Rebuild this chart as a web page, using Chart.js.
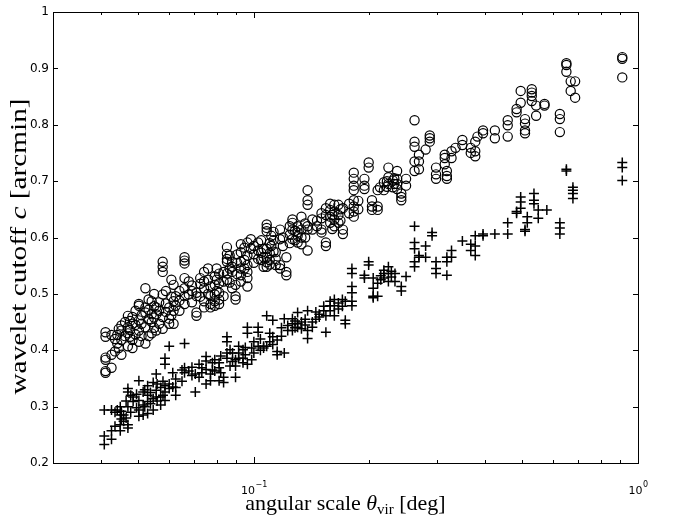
<!DOCTYPE html>
<html>
<head>
<meta charset="utf-8">
<script src="https://cdn.jsdelivr.net/npm/chart.js@4.4.1/dist/chart.umd.min.js"></script>
<style>
  html, body { margin: 0; padding: 0; background: #fff; }
</style>
</head>
<body>
<canvas id="cutoffChart" width="673" height="516"></canvas>
<script>
// angular scale (deg) -> wavelet cutoff (arcmin), grouped by halo scale
const circleGroups = [
  [0.0411, [0.360, 0.363, 0.383, 0.387, 0.424, 0.432]],
  [0.0426, [0.369, 0.392, 0.427]],
  [0.0435, [0.398, 0.420]],
  [0.0441, [0.427, 0.412]],
  [0.0445, [0.404, 0.438]],
  [0.0452, [0.392, 0.418, 0.435, 0.444]],
  [0.0462, [0.425, 0.450]],
  [0.0470, [0.407, 0.441, 0.461, 0.430]],
  [0.0476, [0.424, 0.436, 0.452]],
  [0.0483, [0.418, 0.404, 0.447, 0.459]],
  [0.0492, [0.428, 0.445, 0.470]],
  [0.0502, [0.415, 0.435, 0.479, 0.482, 0.453]],
  [0.0510, [0.425, 0.447, 0.462]],
  [0.0522, [0.412, 0.441, 0.467, 0.476, 0.510]],
  [0.0532, [0.425, 0.455, 0.472, 0.490]],
  [0.0542, [0.430, 0.450, 0.487, 0.464]],
  [0.0550, [0.440, 0.458, 0.478, 0.500]],
  [0.0557, [0.464, 0.476, 0.435]],
  [0.0567, [0.447, 0.470, 0.485]],
  [0.0579, [0.539, 0.548, 0.557, 0.499, 0.459, 0.438]],
  [0.0590, [0.468, 0.483, 0.505]],
  [0.0602, [0.476, 0.456, 0.447]],
  [0.0610, [0.462, 0.495, 0.525]],
  [0.0618, [0.516, 0.487, 0.470, 0.447]],
  [0.0626, [0.496, 0.479]],
  [0.0640, [0.470, 0.488, 0.505]],
  [0.0660, [0.565, 0.559, 0.554, 0.528, 0.510, 0.496, 0.482]],
  [0.0677, [0.499, 0.522]],
  [0.0690, [0.485, 0.505, 0.515]],
  [0.0709, [0.467, 0.461, 0.502, 0.496]],
  [0.0725, [0.495, 0.518, 0.528]],
  [0.0742, [0.539, 0.522, 0.510, 0.487, 0.476]],
  [0.0760, [0.500, 0.525, 0.545]],
  [0.0771, [0.513, 0.496, 0.482, 0.476]],
  [0.0791, [0.531, 0.516, 0.499, 0.487, 0.479]],
  [0.0800, [0.505, 0.525, 0.545]],
  [0.0812, [0.536, 0.519, 0.502, 0.490, 0.482]],
  [0.0834, [0.539, 0.522, 0.496]],
  [0.0851, [0.583, 0.571, 0.562, 0.557, 0.536, 0.525]],
  [0.0865, [0.520, 0.545, 0.568]],
  [0.0878, [0.557, 0.548, 0.539, 0.510]],
  [0.0896, [0.516, 0.496, 0.490]],
  [0.0905, [0.535, 0.555, 0.570]],
  [0.0925, [0.588, 0.574, 0.557, 0.545, 0.533, 0.522]],
  [0.0945, [0.545, 0.560, 0.582]],
  [0.0962, [0.591, 0.568, 0.551, 0.539, 0.528, 0.513]],
  [0.0982, [0.597, 0.580]],
  [0.1000, [0.555, 0.570, 0.585]],
  [0.1026, [0.591, 0.577, 0.562]],
  [0.1045, [0.560, 0.573, 0.595]],
  [0.106, [0.580, 0.565, 0.548]],
  [0.108, [0.580, 0.565, 0.548, 0.623, 0.617, 0.611, 0.556]],
  [0.110, [0.572, 0.552, 0.560, 0.590]],
  [0.111, [0.603, 0.585]],
  [0.1125, [0.575, 0.595, 0.610]],
  [0.114, [0.574, 0.562, 0.551]],
  [0.117, [0.614, 0.597, 0.551, 0.545]],
  [0.119, [0.585, 0.600]],
  [0.1215, [0.565, 0.539, 0.533]],
  [0.124, [0.590, 0.605, 0.620]],
  [0.126, [0.632, 0.626, 0.614, 0.597]],
  [0.128, [0.595, 0.612]],
  [0.130, [0.620, 0.609, 0.603, 0.591]],
  [0.133, [0.637, 0.614, 0.600, 0.588]],
  [0.136, [0.600, 0.625]],
  [0.138, [0.684, 0.666, 0.658, 0.620, 0.614, 0.577]],
  [0.142, [0.632, 0.614]],
  [0.146, [0.620, 0.630]],
  [0.150, [0.643, 0.634, 0.614, 0.609]],
  [0.154, [0.652, 0.640, 0.591, 0.585]],
  [0.158, [0.660, 0.649, 0.637, 0.626]],
  [0.160, [0.615, 0.640]],
  [0.162, [0.658, 0.646, 0.632, 0.620]],
  [0.166, [0.658, 0.640, 0.626]],
  [0.168, [0.630, 0.650]],
  [0.1705, [0.652, 0.614, 0.606]],
  [0.177, [0.660, 0.643]],
  [0.182, [0.715, 0.704, 0.692, 0.684, 0.666, 0.655, 0.646, 0.637]],
  [0.187, [0.650, 0.665]],
  [0.194, [0.704, 0.692, 0.686]],
  [0.199, [0.733, 0.724]],
  [0.203, [0.666, 0.649, 0.655]],
  [0.210, [0.684, 0.655, 0.649]],
  [0.213, [0.689]],
  [0.218, [0.698, 0.684]],
  [0.222, [0.690, 0.700]],
  [0.224, [0.724, 0.707, 0.695]],
  [0.230, [0.701, 0.689]],
  [0.232, [0.695, 0.705]],
  [0.236, [0.718, 0.704, 0.695, 0.686]],
  [0.242, [0.678, 0.672, 0.666]],
  [0.249, [0.704, 0.692]],
  [0.262, [0.808, 0.770, 0.761, 0.735, 0.718]],
  [0.269, [0.747, 0.735, 0.721]],
  [0.280, [0.756]],
  [0.287, [0.781, 0.776, 0.770]],
  [0.298, [0.724, 0.712, 0.704]],
  [0.314, [0.747, 0.741, 0.730]],
  [0.318, [0.718, 0.709, 0.704]],
  [0.327, [0.753, 0.741]],
  [0.335, [0.759]],
  [0.349, [0.773, 0.764]],
  [0.367, [0.759, 0.750]],
  [0.377, [0.770, 0.753, 0.744]],
  [0.382, [0.779]],
  [0.395, [0.790, 0.785]],
  [0.424, [0.790, 0.776]],
  [0.458, [0.808, 0.799, 0.779]],
  [0.483, [0.828, 0.822]],
  [0.495, [0.860, 0.839]],
  [0.508, [0.810, 0.802, 0.790, 0.785]],
  [0.529, [0.863, 0.857, 0.851, 0.842]],
  [0.543, [0.834, 0.816]],
  [0.571, [0.837, 0.834]],
  [0.626, [0.819, 0.810, 0.787]],
  [0.651, [0.909, 0.906, 0.894]],
  [0.668, [0.877, 0.860]],
  [0.686, [0.877, 0.848]],
  [0.910, [0.920, 0.917, 0.884]]
];

const plusGroups = [
  [0.0408, [0.233, 0.248, 0.294]],
  [0.0426, [0.242, 0.257, 0.294]],
  [0.0435, [0.265, 0.290]],
  [0.0441, [0.294]],
  [0.0449, [0.257, 0.268, 0.285, 0.300]],
  [0.0452, [0.278, 0.292]],
  [0.0458, [0.285, 0.274]],
  [0.0465, [0.280, 0.310]],
  [0.0470, [0.268, 0.262, 0.300, 0.326, 0.332]],
  [0.0478, [0.290, 0.320]],
  [0.0485, [0.309, 0.317]],
  [0.0495, [0.298, 0.322]],
  [0.0502, [0.346, 0.283, 0.294, 0.311]],
  [0.0515, [0.303, 0.285, 0.326]],
  [0.0520, [0.300, 0.330]],
  [0.0529, [0.320, 0.337, 0.309, 0.288]],
  [0.0538, [0.305, 0.325]],
  [0.0547, [0.343, 0.294, 0.314]],
  [0.0557, [0.358, 0.329, 0.317]],
  [0.0560, [0.310, 0.340]],
  [0.0572, [0.303, 0.317, 0.334]],
  [0.0580, [0.320, 0.345]],
  [0.0587, [0.375, 0.386, 0.337, 0.326, 0.311]],
  [0.0602, [0.407, 0.340, 0.332]],
  [0.0615, [0.335, 0.360]],
  [0.0626, [0.349, 0.334, 0.320]],
  [0.0650, [0.345, 0.365]],
  [0.0660, [0.412, 0.369, 0.360]],
  [0.0677, [0.363]],
  [0.0690, [0.355, 0.370]],
  [0.0704, [0.358, 0.326]],
  [0.0720, [0.352, 0.375]],
  [0.0732, [0.369, 0.360]],
  [0.0751, [0.389, 0.381, 0.366, 0.340]],
  [0.0771, [0.358, 0.346]],
  [0.0780, [0.365, 0.378]],
  [0.0791, [0.383, 0.363]],
  [0.0812, [0.378, 0.369, 0.346]],
  [0.0820, [0.360, 0.390]],
  [0.0834, [0.352, 0.343]],
  [0.0851, [0.424, 0.415, 0.395, 0.386]],
  [0.0867, [0.401, 0.372]],
  [0.0880, [0.380, 0.395]],
  [0.0896, [0.372, 0.352, 0.383]],
  [0.0913, [0.407, 0.395, 0.386]],
  [0.0937, [0.401, 0.386, 0.378]],
  [0.0950, [0.392, 0.405]],
  [0.0962, [0.375, 0.441, 0.430]],
  [0.0987, [0.383, 0.404]],
  [0.1000, [0.395, 0.415]],
  [0.1026, [0.407, 0.441, 0.432]],
  [0.1040, [0.400, 0.420]],
  [0.106, [0.404, 0.407]],
  [0.108, [0.461, 0.407]],
  [0.110, [0.415, 0.430]],
  [0.112, [0.453, 0.424, 0.410]],
  [0.115, [0.418, 0.398, 0.392]],
  [0.118, [0.425, 0.440]],
  [0.120, [0.395, 0.456]],
  [0.1225, [0.444, 0.435]],
  [0.126, [0.456, 0.447, 0.435]],
  [0.128, [0.440, 0.452]],
  [0.130, [0.467, 0.447, 0.441]],
  [0.133, [0.450, 0.438]],
  [0.136, [0.445, 0.455]],
  [0.138, [0.470, 0.421, 0.435]],
  [0.142, [0.450, 0.441]],
  [0.145, [0.455, 0.468]],
  [0.148, [0.464, 0.459]],
  [0.152, [0.470, 0.478]],
  [0.154, [0.461, 0.432]],
  [0.158, [0.487, 0.479, 0.470]],
  [0.162, [0.490, 0.479, 0.461]],
  [0.166, [0.484, 0.473]],
  [0.170, [0.478, 0.490]],
  [0.173, [0.453, 0.447, 0.487]],
  [0.180, [0.545, 0.536, 0.513, 0.502, 0.487, 0.479]],
  [0.194, [0.533, 0.528]],
  [0.199, [0.557, 0.551]],
  [0.2045, [0.528, 0.510, 0.496, 0.493]],
  [0.210, [0.519, 0.496]],
  [0.214, [0.525, 0.532]],
  [0.218, [0.536, 0.528, 0.542]],
  [0.224, [0.548, 0.536, 0.522]],
  [0.228, [0.530, 0.540]],
  [0.233, [0.536, 0.522]],
  [0.242, [0.513, 0.505]],
  [0.249, [0.531]],
  [0.262, [0.620, 0.591, 0.580, 0.557, 0.548]],
  [0.269, [0.568, 0.565]],
  [0.280, [0.585, 0.565]],
  [0.291, [0.609, 0.603]],
  [0.298, [0.557, 0.545, 0.536]],
  [0.318, [0.565, 0.557, 0.533]],
  [0.327, [0.577, 0.565]],
  [0.349, [0.594]],
  [0.367, [0.588, 0.577]],
  [0.377, [0.603, 0.585, 0.568]],
  [0.395, [0.606, 0.603]],
  [0.424, [0.606]],
  [0.458, [0.626, 0.606]],
  [0.483, [0.646, 0.643]],
  [0.495, [0.672, 0.663, 0.652]],
  [0.508, [0.614, 0.611]],
  [0.515, [0.637, 0.626]],
  [0.536, [0.678, 0.666, 0.660]],
  [0.550, [0.649, 0.634]],
  [0.579, [0.649]],
  [0.626, [0.626, 0.617, 0.606]],
  [0.651, [0.721, 0.718]],
  [0.677, [0.689, 0.684, 0.678, 0.669]],
  [0.910, [0.733, 0.724, 0.701]]
];

// axis ticks
const xTickValues = [0.03, 0.04, 0.05, 0.06, 0.07, 0.08, 0.09, 0.1,
                     0.2, 0.3, 0.4, 0.5, 0.6, 0.7, 0.8, 0.9, 1];
const xLabelValues = [0.1, 1];
const xLabelExponents = ['\u22121', '0'];
const yTickValues = [0.2, 0.3, 0.4, 0.5, 0.6, 0.7, 0.8, 0.9, 1];
const yTickLabels = ['0.2', '0.3', '0.4', '0.5', '0.6', '0.7', '0.8', '0.9', '1'];

const toPoints = groups => groups.flatMap(([x, ys]) => ys.map(y => ({ x, y })));

// box, inward ticks, decade labels and axis titles (matlab look)
const matlabFrame = {
  id: 'matlabFrame',
  afterDraw(chart) {
    const { ctx, chartArea: a, scales: { x, y } } = chart;
    ctx.save();
    ctx.strokeStyle = '#000';
    ctx.lineWidth = 1;
    ctx.strokeRect(Math.round(a.left) + 0.5, Math.round(a.top) + 0.5,
                   Math.round(a.right - a.left), Math.round(a.bottom - a.top));

    ctx.beginPath();
    yTickValues.forEach(v => {
      const py = Math.round(y.getPixelForValue(v)) + 0.5;
      ctx.moveTo(a.left, py); ctx.lineTo(a.left + 5, py);
      ctx.moveTo(a.right, py); ctx.lineTo(a.right - 5, py);
    });
    xTickValues.forEach(v => {
      const px = Math.round(x.getPixelForValue(v)) + 0.5;
      const len = xLabelValues.includes(v) ? 6 : 3;
      ctx.moveTo(px, a.bottom); ctx.lineTo(px, a.bottom - len);
      ctx.moveTo(px, a.top); ctx.lineTo(px, a.top + len);
    });
    ctx.stroke();

    // decade labels 10^-1, 10^0
    ctx.fillStyle = '#000';
    ctx.textBaseline = 'alphabetic';
    ctx.textAlign = 'left';
    xLabelValues.forEach((v, i) => {
      const px = x.getPixelForValue(v);
      ctx.font = '11px "DejaVu Sans"';
      const wBase = ctx.measureText('10').width;
      ctx.font = '8px "DejaVu Sans"';
      const wExp = ctx.measureText(xLabelExponents[i]).width;
      const left = px - (wBase + wExp) / 2;
      ctx.font = '11px "DejaVu Sans"';
      ctx.fillText('10', left, a.bottom + 31);
      ctx.font = '8px "DejaVu Sans"';
      ctx.fillText(xLabelExponents[i], left + wBase + 0.5, a.bottom + 24);
    });

    // x title: angular scale θ_vir [deg]
    const serif = '"Liberation Serif", "Times New Roman", serif';
    const xParts = [
      { t: 'angular scale ', f: `22px ${serif}`, dy: 0 },
      { t: '\u03B8', f: `italic 22px ${serif}`, dy: 0 },
      { t: 'vir', f: `15px ${serif}`, dy: 4 },
      { t: ' [deg]', f: `22px ${serif}`, dy: 0 }
    ];
    let total = 0;
    xParts.forEach(p => { ctx.font = p.f; p.w = ctx.measureText(p.t).width; total += p.w; });
    let cx = (a.left + a.right) / 2 - total / 2;
    xParts.forEach(p => {
      ctx.font = p.f;
      ctx.fillText(p.t, cx, 510 + p.dy);
      cx += p.w;
    });

    // y title: wavelet cutoff c [arcmin], stretched along its run
    const yParts = [
      { t: 'wavelet cutoff ', f: `24px ${serif}` },
      { t: 'c', f: `italic 24px ${serif}` },
      { t: ' [arcmin]', f: `24px ${serif}` }
    ];
    total = 0;
    yParts.forEach(p => { ctx.font = p.f; p.w = ctx.measureText(p.t).width; total += p.w; });
    ctx.translate(26, (a.top + a.bottom) / 2 + 9);
    ctx.rotate(-Math.PI / 2);
    ctx.scale(1.22, 1);
    cx = -total / 2;
    yParts.forEach(p => {
      ctx.font = p.f;
      ctx.fillText(p.t, cx, 0);
      cx += p.w;
    });
    ctx.restore();
  }
};

new Chart(document.getElementById('cutoffChart'), {
  type: 'scatter',
  data: {
    datasets: [
      {
        label: 'circles',
        data: toPoints(circleGroups),
        pointStyle: 'circle',
        pointRadius: 4.6,
        pointBorderWidth: 1.2,
        borderColor: '#000',
        backgroundColor: 'rgba(0,0,0,0)'
      },
      {
        label: 'plus',
        data: toPoints(plusGroups),
        pointStyle: 'cross',
        pointRadius: 5,
        pointBorderWidth: 1.5,
        borderColor: '#000',
        backgroundColor: '#000'
      }
    ]
  },
  options: {
    responsive: false,
    animation: false,
    events: [],
    layout: { padding: { left: 0, right: 35, top: 12, bottom: 0 } },
    plugins: { legend: { display: false }, tooltip: { enabled: false } },
    scales: {
      x: {
        type: 'logarithmic',
        min: 0.03,
        max: 1,
        grid: { display: false, drawTicks: false },
        border: { display: false },
        ticks: { display: false },
        afterBuildTicks: s => { s.ticks = xTickValues.map(v => ({ value: v })); },
        afterFit: s => { s.height = 53; }
      },
      y: {
        min: 0.2,
        max: 1,
        grid: { display: false, drawTicks: false },
        border: { display: false },
        afterBuildTicks: s => { s.ticks = yTickValues.map(v => ({ value: v })); },
        ticks: {
          padding: 4,
          color: '#000',
          font: { family: 'DejaVu Sans', size: 12 },
          callback: (v, i) => yTickLabels[i]
        },
        afterFit: s => { s.width = 53; }
      }
    }
  },
  plugins: [matlabFrame]
});
</script>
</body>
</html>
